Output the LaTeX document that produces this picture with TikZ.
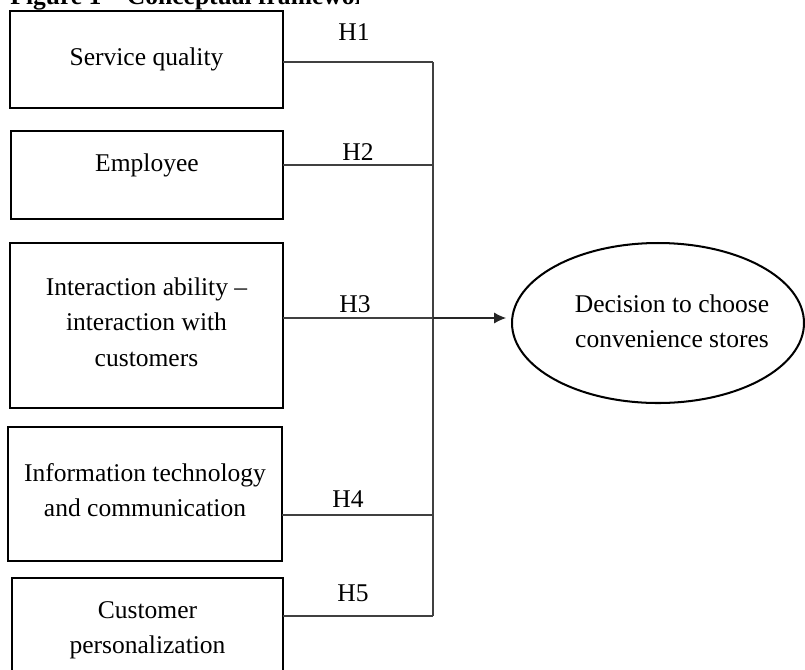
\documentclass[tikz,border=0pt]{standalone}
\usepackage{fontspec}
\setmainfont{Liberation Serif}
\usetikzlibrary{shapes.geometric, arrows.meta}

\newlength\unitpx
\setlength\unitpx{0.47pt}

\tikzset{
  factor/.style = {draw, line width=0.95pt, rectangle, align=center, inner sep=0pt, outer sep=0pt, font=\fontsize{12pt}{16.5pt}\selectfont},
  goal/.style = {draw, line width=0.95pt, ellipse, inner sep=0pt, outer sep=0pt, minimum width=292\unitpx, minimum height=160\unitpx},
  hyp/.style = {inner sep=0pt, font=\fontsize{12pt}{14pt}\selectfont},
  link/.style = {line width=0.5pt, color=black!75},
}

\begin{document}
\begin{tikzpicture}[x=0.47pt, y=-0.47pt]
\useasboundingbox (0,0) rectangle (805,669);

% caption, cut off at the top
\begin{scope}
\clip (0,0) rectangle (358,20);
\node[anchor=base west, inner sep=0pt, font=\bfseries\fontsize{12pt}{14pt}\selectfont] (cap) at (10,4) {Figure 1 -- Conceptual framework};
\end{scope}

% factors
\node[factor, minimum width=273\unitpx, minimum height=97\unitpx] (sq) at (146.5,59.5) {Service quality};
\node[factor, minimum width=272\unitpx, minimum height=88\unitpx, text depth=12pt] (emp) at (147,175) {Employee};
\node[factor, minimum width=273\unitpx, minimum height=165\unitpx, text depth=3.2pt] (ia) at (146.5,325.5) {Interaction ability --\\interaction with\\customers};
\node[factor, minimum width=274\unitpx, minimum height=134\unitpx, text depth=3.8pt] (itc) at (145,494) {Information technology\\and communication};
\node[factor, minimum width=271\unitpx, minimum height=104\unitpx] (cp) at (147.5,630) {Customer\\personalization};

% outcome
\node[goal] (dec) at (658,323) {};
\node[align=center, inner sep=0pt, font=\fontsize{12pt}{16.5pt}\selectfont] (dectxt) at (672,321) {Decision to choose\\convenience stores};

% hypotheses
\foreach \n/\y in {1/62, 2/165, 3/318, 4/515, 5/616}
  \coordinate (j\n) at (433,\y);
\foreach \f/\n in {sq/1, emp/2, ia/3, itc/4, cp/5}
  \draw[link] (\f.east |- j\n) -- (j\n);
\draw[link] (j1) -- (j5);
\draw[link, color=black!85, -{Latex[length=5.6pt, width=5.2pt]}, shorten >=2.8pt] (j3) -- (dec.west |- j3);

\foreach \n/\x/\y in {1/354/32, 2/358/152, 3/355/304, 4/348/499, 5/353/593}
  \node[hyp] (h\n) at (\x,\y) {H\n};

\end{tikzpicture}
\end{document}
